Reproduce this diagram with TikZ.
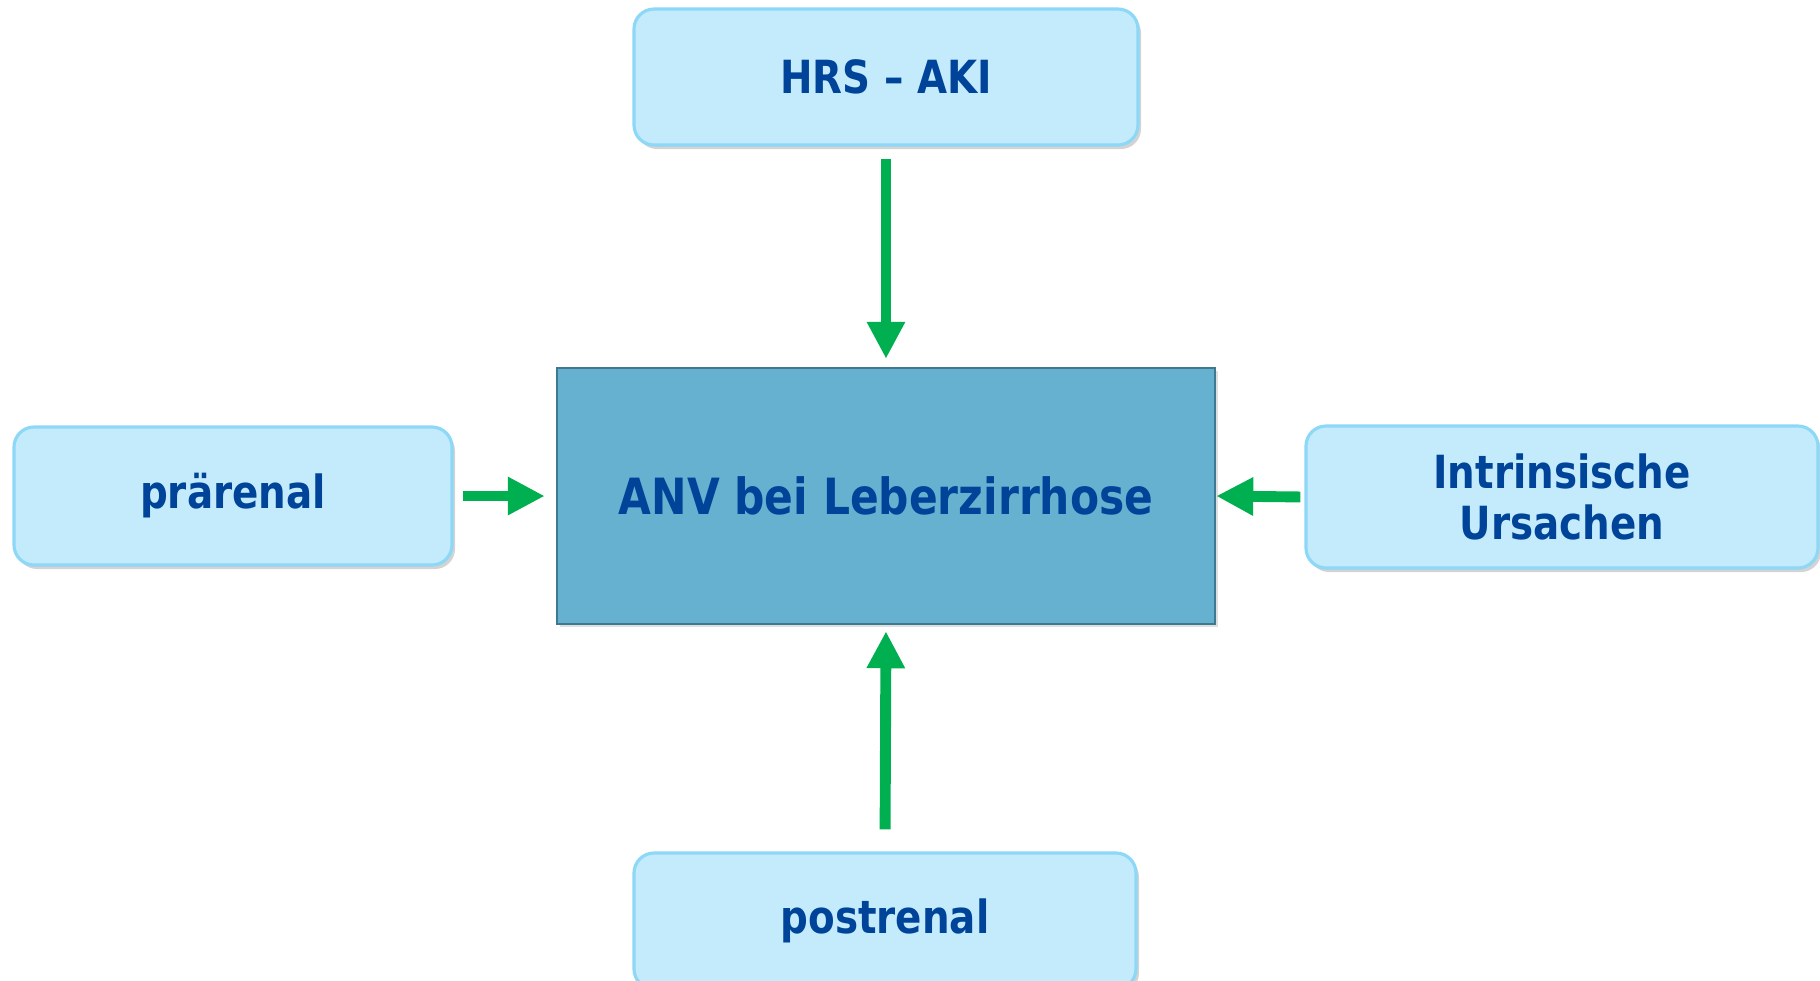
\documentclass[tikz,border=0pt]{standalone}
\usepackage{fontspec}
\setsansfont{DejaVu Sans}[FakeStretch=0.85]
\usepackage{tikz}
\usetikzlibrary{arrows.meta,shadows}

\definecolor{boxfill}{HTML}{C3EBFC}
\definecolor{boxline}{HTML}{8DD7F7}
\definecolor{mainfill}{HTML}{67B1D0}
\definecolor{mainline}{HTML}{3E7891}
\definecolor{txtblue}{HTML}{00449A}
\definecolor{arrgreen}{HTML}{00B050}

\begin{document}
\begin{tikzpicture}[
    cause/.style={draw=boxline, line width=0.9pt, fill=boxfill, rounded corners=0.2cm,
      drop shadow={shadow xshift=0.03cm, shadow yshift=-0.04cm, opacity=0.35},
      text=txtblue, font=\sffamily\bfseries\fontsize{13}{14.5}\selectfont, align=center,
      inner sep=0pt},
    anv/.style={draw=mainline, line width=0.7pt, fill=mainfill,
      drop shadow={shadow xshift=0.03cm, shadow yshift=-0.03cm, opacity=0.25},
      text=txtblue, font=\sffamily\bfseries\fontsize{14.2}{16}\selectfont, inner sep=0pt},
    feed/.style={arrgreen, line width=3.1pt, -{Triangle[length=0.37cm,width=0.36cm]}}]
      \useasboundingbox (0,0) rectangle (18.2,-9.8);
      \node[anv, minimum width=6.58cm, minimum height=2.56cm] (anv) at (8.86,-4.96) {ANV bei Leberzirrhose};
      \node[cause, minimum width=5.04cm, minimum height=1.36cm] (hrs) at (8.86,-0.77) {HRS -- AKI};
      \node[cause, minimum width=4.38cm, minimum height=1.38cm] (prae) at (2.33,-4.96) {prärenal};
      \node[cause, minimum width=5.12cm, minimum height=1.42cm] (intr) at (15.62,-4.97) {Intrinsische\\Ursachen};
      \node[cause, minimum width=5.02cm, minimum height=1.36cm] (post) at (8.85,-9.21) {postrenal};
      % Pfeile zur Mitte
      \draw[feed, shorten <=0.12cm, shorten >=0.08cm] (hrs.south) -- (anv.north);
      \draw[feed, shorten <=0.22cm, shorten >=0.06cm] (post.north) -- (anv.south);
      \draw[feed, shorten <=0.09cm, shorten >=0.11cm] (prae.east) -- (anv.west);
      \draw[feed, shorten <=0.04cm, shorten >=0.0cm] (intr.west) -- (anv.east);
    \end{tikzpicture}
\end{document}
